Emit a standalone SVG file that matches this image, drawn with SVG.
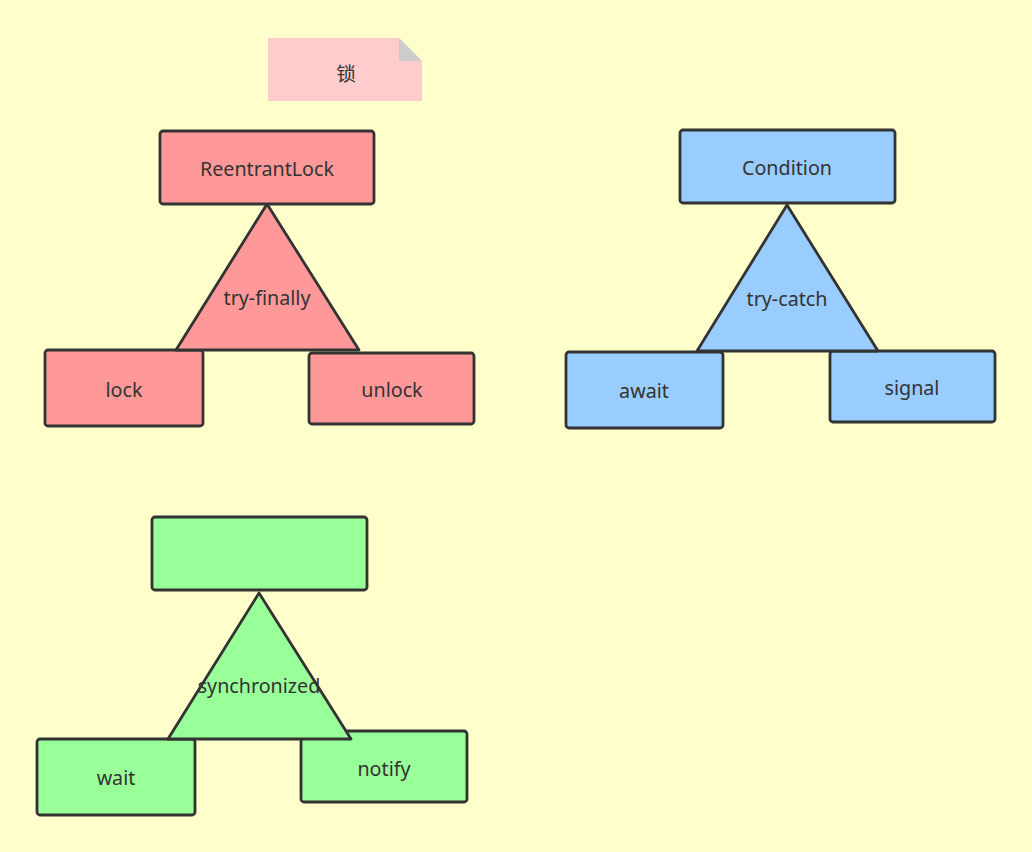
<svg xmlns="http://www.w3.org/2000/svg" width="1032" height="852" viewBox="0 0 1032 852">
<style>
.b{stroke:#333;stroke-width:2.8;stroke-linejoin:round}
.r{fill:#FF9999}.u{fill:#99CCFF}.g{fill:#99FF99}
text{font-family:"Noto Sans","Open Sans","Noto Sans CJK SC",sans-serif;font-size:19.7px;fill:#333;text-anchor:middle;dominant-baseline:central}
</style>
<rect width="1032" height="852" fill="#FFFFCC"/>
<g id="note">
<path d="M268 38H399L422 61V101H268Z" fill="#FFCCCC"/>
<path d="M399 38L422 61H399Z" fill="#CCCCCC"/>
<text x="346" y="72" style="font-family:'Noto Sans CJK SC',sans-serif">锁</text>
</g>
<g id="connectors"></g>
<g id="lock"><rect class="b r" x="45" y="350" width="158" height="76" rx="3"/><text x="124" y="389">lock</text></g>
<g id="unlock"><rect class="b r" x="309" y="353" width="165" height="71" rx="3"/><text x="392" y="389">unlock</text></g>
<g id="try-finally"><polygon class="b r" points="267,204 176,350 359,350"/><text x="267" y="297">try-finally</text></g>
<g id="reentrantlock"><rect class="b r" x="160" y="131" width="214" height="73" rx="3"/><text x="267" y="168">ReentrantLock</text></g>
<g id="await"><rect class="b u" x="566" y="352" width="157" height="76" rx="3"/><text x="644" y="390">await</text></g>
<g id="signal"><rect class="b u" x="830" y="351" width="165" height="71" rx="3"/><text x="912" y="387">signal</text></g>
<g id="try-catch"><polygon class="b u" points="787,205 697,351 878,351"/><text x="787" y="298">try-catch</text></g>
<g id="condition"><rect class="b u" x="680" y="130" width="215" height="73" rx="3"/><text x="787" y="167">Condition</text></g>
<g id="wait"><rect class="b g" x="37" y="739" width="158" height="76" rx="3"/><text x="116" y="777">wait</text></g>
<g id="notify"><rect class="b g" x="301" y="731" width="166" height="71" rx="3"/><text x="384" y="768">notify</text></g>
<g id="synchronized"><polygon class="b g" points="259,593 168,739 351,739"/><text x="259" y="685">synchronized</text></g>
<g id="object"><rect class="b g" x="152" y="517" width="215" height="73" rx="3"/></g>
</svg>
